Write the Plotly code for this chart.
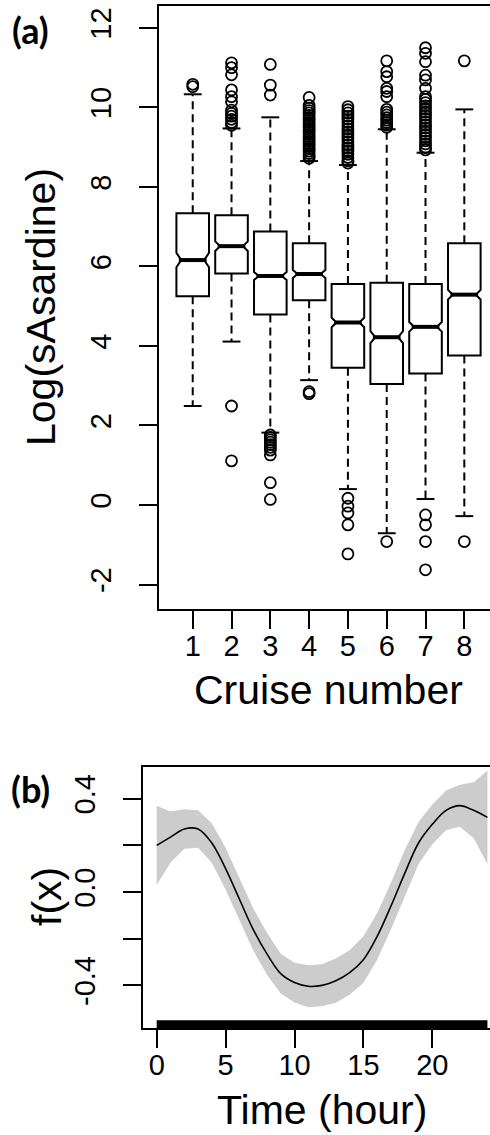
import plotly.graph_objects as go

W, H = 490, 1135

# ---------------- Panel (a) data ----------------
cruises = [1, 2, 3, 4, 5, 6, 7, 8]
q1 = [5.25, 5.82, 4.79, 5.15, 3.45, 3.04, 3.31, 3.76]
median = [6.16, 6.51, 5.76, 5.81, 4.59, 4.22, 4.48, 5.29]
q3 = [7.34, 7.29, 6.88, 6.58, 5.56, 5.59, 5.56, 6.58]
whisker_low = [2.49, 4.11, 1.82, 3.14, 0.40, -0.71, 0.15, -0.28]
whisker_high = [10.33, 9.47, 9.75, 8.65, 8.55, 9.45, 8.86, 9.95]
notch_half = [0.18, 0.12, 0.10, 0.10, 0.12, 0.15, 0.12, 0.12]

outliers_c1 = [10.52, 10.58]
outliers_c2 = [11.12, 11.0, 10.82, 10.44, 10.27, 10.14, 9.93, 9.85, 9.78, 9.7, 9.62, 9.55,
               2.49, 1.11]
outliers_c3 = [11.08, 10.56, 10.31, 1.76, 1.7, 1.64, 1.58, 1.52, 1.45, 1.38, 1.26, 0.56, 0.14]
outliers_c4 = [10.25, 10.05, 9.98, 9.92, 9.86, 9.8, 9.74, 9.68, 9.62, 9.56, 9.5, 9.44, 9.38,
               9.32, 9.26, 9.2, 9.14, 9.08, 9.02, 8.96, 8.9, 8.84, 8.78, 8.72, 2.85, 2.80]
outliers_c5 = [10.02, 9.94, 9.86, 9.78, 9.7, 9.62, 9.54, 9.46, 9.38, 9.3, 9.22, 9.14, 9.06,
               8.98, 8.9, 8.82, 8.74, 8.66, 8.6, 0.17, -0.03, -0.2, -0.5, -1.23]
outliers_c6 = [11.17, 10.9, 10.77, 10.48, 10.4, 10.27, 9.95, 9.88, 9.81, 9.74, 9.68, 9.62,
               9.56, 9.5, -0.92]
outliers_c7 = [11.5, 11.36, 11.15, 10.81, 10.69, 10.48, 10.27, 10.2, 10.12, 10.04, 9.96, 9.88,
               9.8, 9.72, 9.64, 9.56, 9.48, 9.4, 9.32, 9.24, 9.16, 9.08, 9.0, 8.93,
               -0.25, -0.5, -0.92, -1.63]
outliers_c8 = [11.17, -0.92]
outliers = [outliers_c1, outliers_c2, outliers_c3, outliers_c4,
            outliers_c5, outliers_c6, outliers_c7, outliers_c8]

y_ticks_a = [-2, 0, 2, 4, 6, 8, 10, 12]

# ---------------- Panel (b) data ----------------
hours = [0, 1, 2, 3, 4, 5, 6, 7, 8, 9, 10, 11, 12, 13, 14, 15, 16, 17, 18, 19, 20, 21, 22, 23, 24]
fit = [0.20, 0.235, 0.27, 0.27, 0.21, 0.10, -0.03, -0.16, -0.265, -0.35, -0.388, -0.404, -0.40,
       -0.38, -0.345, -0.29, -0.19, -0.06, 0.08, 0.21, 0.29, 0.35, 0.37, 0.35, 0.32]
upper = [0.37, 0.345, 0.355, 0.35, 0.295, 0.19, 0.06, -0.07, -0.175, -0.265, -0.303, -0.314,
         -0.31, -0.285, -0.25, -0.19, -0.09, 0.04, 0.18, 0.30, 0.375, 0.435, 0.46, 0.47, 0.52]
lower = [0.03, 0.125, 0.185, 0.19, 0.125, 0.01, -0.12, -0.25, -0.355, -0.435, -0.473, -0.494,
         -0.49, -0.475, -0.44, -0.39, -0.29, -0.16, -0.02, 0.12, 0.205, 0.265, 0.28, 0.23, 0.12]
rug_hours = [0.0, 24.0]
x_ticks_b = [0, 5, 10, 15, 20]
y_ticks_b = [-0.4, -0.2, 0.0, 0.2, 0.4]
y_ticktext_b = ["-0.4", "", "0.0", "", "0.4"]

# ---------------- Layout geometry (pixels) ----------------
FONT = "Liberation Sans, Arial, sans-serif"
LBL_FONT = "Lato, Carlito, sans-serif"

a_left, a_top, a_bottom = 159, 6, 609
b_left, b_top, b_bottom = 143.3, 766.7, 1028.3

def px_x(p):
    return p / W

def px_y(p):
    return 1 - p / H

BOX_W = 0.84
NOTCH_W = 0.15

fig = go.Figure()

# dashed whiskers
wx, wy = [], []
for c, lo, hi, a, b in zip(cruises, whisker_low, whisker_high, q1, q3):
    wx += [c, c, None, c, c, None]
    wy += [b, hi, None, a, lo, None]
fig.add_trace(go.Scatter(x=wx, y=wy, mode="lines", xaxis="x", yaxis="y",
                         line=dict(color="black", width=2, dash="8px,5px"),
                         hoverinfo="skip", showlegend=False))
# whisker caps
cx, cy = [], []
cap = 0.23
for c, lo, hi in zip(cruises, whisker_low, whisker_high):
    cx += [c - cap, c + cap, None, c - cap, c + cap, None]
    cy += [hi, hi, None, lo, lo, None]
fig.add_trace(go.Scatter(x=cx, y=cy, mode="lines", xaxis="x", yaxis="y",
                         line=dict(color="black", width=2),
                         hoverinfo="skip", showlegend=False))

# notched boxes
fig.add_trace(go.Box(x=cruises, q1=q1, median=median, q3=q3,
                     lowerfence=q1, upperfence=q3,
                     notched=True, notchspan=notch_half, notchwidth=NOTCH_W,
                     width=BOX_W, whiskerwidth=0,
                     fillcolor="white", line=dict(color="black", width=2),
                     boxpoints=False, xaxis="x", yaxis="y", showlegend=False))

# bold medians
mx, my = [], []
mh = BOX_W / 2 * (1 - NOTCH_W)
for c, m in zip(cruises, median):
    mx += [c - mh, c + mh, None]
    my += [m, m, None]
fig.add_trace(go.Scatter(x=mx, y=my, mode="lines", xaxis="x", yaxis="y",
                         line=dict(color="black", width=4),
                         hoverinfo="skip", showlegend=False))

# outliers
ox, oy = [], []
for c, vals in zip(cruises, outliers):
    ox += [c] * len(vals)
    oy += vals
fig.add_trace(go.Scatter(x=ox, y=oy, mode="markers", xaxis="x", yaxis="y",
                         marker=dict(symbol="circle-open", size=11, color="black",
                                     line=dict(width=1.8, color="black")),
                         hoverinfo="skip", showlegend=False))

# ---------------- Panel (b) traces ----------------
fig.add_trace(go.Scatter(x=hours, y=upper, mode="lines", xaxis="x2", yaxis="y2",
                         line=dict(width=0, color="#CCCCCC"), hoverinfo="skip", showlegend=False))
fig.add_trace(go.Scatter(x=hours, y=lower, mode="lines", xaxis="x2", yaxis="y2",
                         fill="tonexty", fillcolor="#CCCCCC",
                         line=dict(width=0, color="#CCCCCC"), hoverinfo="skip", showlegend=False))
fig.add_trace(go.Scatter(x=hours, y=fit, mode="lines", xaxis="x2", yaxis="y2",
                         line=dict(width=1.6, color="black", shape="spline"),
                         hoverinfo="skip", showlegend=False))
# rug
b_range = [-0.584, 0.537]
rug_y = b_range[0] + (b_range[1] - b_range[0]) * 4.0 / (b_bottom - b_top)
fig.add_trace(go.Scatter(x=rug_hours, y=[rug_y] * len(rug_hours), mode="lines",
                         xaxis="x2", yaxis="y2",
                         line=dict(width=8, color="black"),
                         hoverinfo="skip", showlegend=False))

axis_common = dict(showline=True, linecolor="black", linewidth=2,
                   ticks="outside", ticklen=18, tickwidth=2, tickcolor="black",
                   showgrid=False, zeroline=False,
                   tickfont=dict(family=FONT, size=29, color="black"))

fig.update_layout(
    width=W, height=H,
    margin=dict(l=0, r=0, t=0, b=0),
    paper_bgcolor="white", plot_bgcolor="white",
    showlegend=False,
    xaxis=dict(domain=[px_x(a_left), 1.0], range=[0.131, 8.662], type="linear",
               tickvals=cruises, ticktext=[str(c) for c in cruises],
               mirror=True, anchor="y", ticklabelstandoff=-8, **axis_common),
    yaxis=dict(domain=[px_y(a_bottom), px_y(a_top)], range=[-2.616, 12.55],
               tickvals=y_ticks_a, ticktext=[str(v) for v in y_ticks_a],
               tickangle=-90, mirror=False, anchor="x", ticklabelstandoff=16, **axis_common),
    xaxis2=dict(domain=[px_x(b_left), 1.0], range=[-0.972, 24.187], type="linear",
                tickvals=x_ticks_b, ticktext=[str(v) for v in x_ticks_b],
                mirror=True, anchor="y2", ticklabelstandoff=-8, **axis_common),
    yaxis2=dict(domain=[px_y(b_bottom), px_y(b_top)], range=b_range,
                tickvals=y_ticks_b, ticktext=y_ticktext_b,
                tickangle=-90, mirror=False, anchor="x2", ticklabelstandoff=17, **axis_common),
)

title_font = dict(family=FONT, size=41, color="black")
lbl_font = dict(family=LBL_FONT, size=36, color="black", weight="bold")
ann = [
    dict(text="(a)", x=px_x(30), y=px_y(30), font=lbl_font),
    dict(text="(b)", x=px_x(30), y=px_y(789), font=lbl_font),
    dict(text="Log(sAsardine)", x=px_x(41), y=px_y(307), textangle=-90, font=title_font),
    dict(text="Cruise number", x=px_x(328), y=px_y(690), font=title_font),
    dict(text="f(x)", x=px_x(47), y=px_y(897), textangle=-90, font=title_font),
    dict(text="Time (hour)", x=px_x(322), y=px_y(1110), font=title_font),
]
for a in ann:
    a.update(xref="paper", yref="paper", xanchor="center", yanchor="middle", showarrow=False)
fig.update_layout(annotations=ann)

fig.write_html("out.html")
